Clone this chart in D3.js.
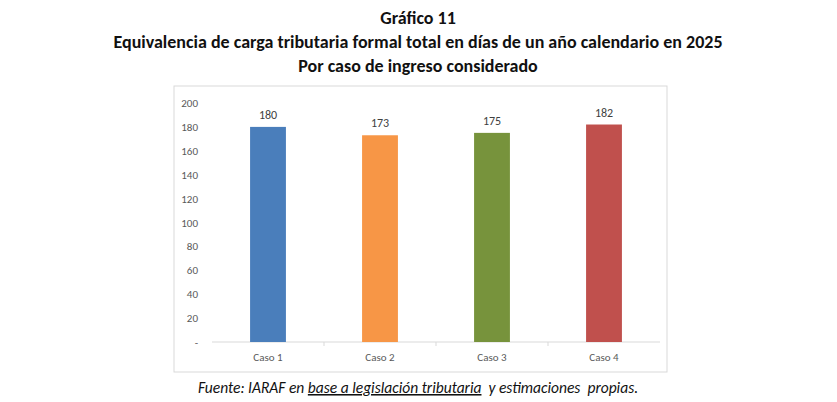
<!DOCTYPE html>
<html>
<head>
<meta charset="UTF-8">
<script src="https://cdn.jsdelivr.net/npm/d3@7"></script>
<style>
body { margin:0; background:#fff; }
text { font-family: Calibri, Carlito, "Liberation Sans", Arial, sans-serif; }
</style>
</head>
<body>
<svg id="chart" width="837" height="402"></svg>
<script>
// data
var categories = ["Caso 1", "Caso 2", "Caso 3", "Caso 4"];
var values = [180, 173, 175, 182];
var colors = ["#4a7ebb", "#f79646", "#77933c", "#c0504d"];
var yTicks = [0, 20, 40, 60, 80, 100, 120, 140, 160, 180, 200];

var svg = d3.select("#chart");

// titles
var titles = ["Gráfico 11",
  "Equivalencia de carga tributaria formal total en días de un año calendario en 2025",
  "Por caso de ingreso considerado"];
svg.selectAll("text.title").data(titles).enter().append("text")
  .attr("class", "title")
  .attr("x", 418).attr("y", function(d, i) { return 24 + i * 24; })
  .attr("text-anchor", "middle")
  .style("font-size", "18px").style("font-weight", "bold").style("fill", "#111")
  .text(function(d) { return d; });

// chart frame
svg.append("rect").attr("x", 174).attr("y", 86).attr("width", 493).attr("height", 286)
  .attr("fill", "#fff").attr("stroke", "#d9d9d9");

var x = d3.scaleBand().domain(categories).range([212, 660]).paddingInner(0.68).paddingOuter(0.34);
var y = d3.scaleLinear().domain([0, 200]).range([342, 103]);

// y axis labels
svg.selectAll("text.ytick").data(yTicks).enter().append("text")
  .attr("class", "ytick")
  .attr("x", 198).attr("y", function(d) { return y(d) + 4; })
  .attr("text-anchor", "end")
  .style("font-size", "11px").style("fill", "#595959")
  .text(function(d) { return d === 0 ? "-" : d; });

// baseline
var step = x.step();
svg.append("line").attr("x1", 212).attr("x2", 660).attr("y1", y(0)).attr("y2", y(0))
  .attr("stroke", "#d9d9d9");
svg.selectAll("line.sep").data(categories.slice(1)).enter().append("line")
  .attr("x1", function(d) { return x(d) - (step - x.bandwidth()) / 2; })
  .attr("x2", function(d) { return x(d) - (step - x.bandwidth()) / 2; })
  .attr("y1", y(0)).attr("y2", y(0) + 4).attr("stroke", "#d9d9d9");

// bars
svg.selectAll("rect.bar").data(values).enter().append("rect")
  .attr("class", "bar")
  .attr("x", function(d, i) { return x(categories[i]); })
  .attr("y", function(d) { return y(d); })
  .attr("width", x.bandwidth())
  .attr("height", function(d) { return y(0) - y(d); })
  .attr("fill", function(d, i) { return colors[i]; });

// value labels
svg.selectAll("text.val").data(values).enter().append("text")
  .attr("class", "val")
  .attr("x", function(d, i) { return x(categories[i]) + x.bandwidth() / 2; })
  .attr("y", function(d) { return y(d) - 8; })
  .attr("text-anchor", "middle")
  .style("font-size", "12px").style("fill", "#404040")
  .text(function(d) { return d; });

// category labels
svg.selectAll("text.cat").data(categories).enter().append("text")
  .attr("class", "cat")
  .attr("x", function(d) { return x(d) + x.bandwidth() / 2; })
  .attr("y", 361)
  .attr("text-anchor", "middle")
  .style("font-size", "11px").style("fill", "#595959")
  .text(function(d) { return d; });

// source
var src = svg.append("text").attr("x", 418).attr("y", 393).attr("text-anchor", "middle")
  .style("font-size", "15.5px").style("font-style", "italic").style("fill", "#111")
  .attr("xml:space", "preserve");
src.append("tspan").text("Fuente: IARAF en ");
src.append("tspan").style("text-decoration", "underline").text("base a legislación tributaria");
src.append("tspan").text("  y estimaciones  propias.");
</script>
</body>
</html>
